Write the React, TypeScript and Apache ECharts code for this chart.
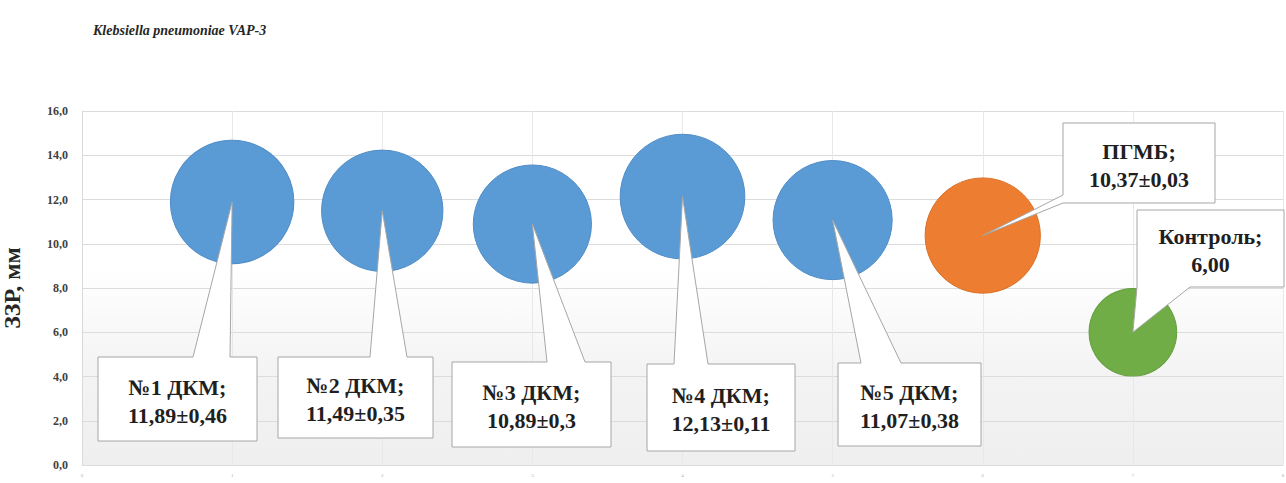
import React, { useEffect, useRef } from "react";
import * as echarts from "echarts";

// Samples plotted along the x axis, one bubble each
const categories = ["№1 ДКМ", "№2 ДКМ", "№3 ДКМ", "№4 ДКМ", "№5 ДКМ", "ПГМБ", "Контроль"];
const xPositions = [1, 2, 3, 4, 5, 6, 7];
// Mean growth-inhibition zone, mm (also used as bubble size)
const means = [11.89, 11.49, 10.89, 12.13, 11.07, 10.37, 6.0];
// Standard deviations (control has none)
const deviations: (number | null)[] = [0.46, 0.35, 0.3, 0.11, 0.38, 0.03, null];
const yTickMin = 0;
const yTickMax = 16;
const yTickStep = 2;

const bubbleColors = ["#5b9bd5", "#5b9bd5", "#5b9bd5", "#5b9bd5", "#5b9bd5", "#ed7d31", "#70ad47"];
const bubbleEdges = ["#4f8cc6", "#4f8cc6", "#4f8cc6", "#4f8cc6", "#4f8cc6", "#d96f27", "#64a03e"];

// Callout boxes in pixels: [left, top, right, bottom], the edge the pointer leaves from, and pointer base
type Callout = { box: [number, number, number, number]; side: "top" | "left" | "bottom"; base: [number, number] };
const callouts: Callout[] = [
  { box: [98, 357, 257, 441], side: "top", base: [193, 230] },
  { box: [278, 357, 433, 438], side: "top", base: [370, 407] },
  { box: [452, 362, 611, 447], side: "top", base: [547, 585] },
  { box: [647, 364, 795, 451], side: "top", base: [674, 708] },
  { box: [838, 363, 981, 446], side: "top", base: [861, 901] },
  { box: [1063, 123, 1215, 203], side: "left", base: [195, 203] },
  { box: [1137, 210, 1284, 287], side: "bottom", base: [1137, 1190] },
];

const fmt = (v: number) => String(v).replace(".", ",");
const labelText = (i: number) =>
  `${categories[i]};\n${means[i].toFixed(2).replace(".", ",")}` +
  (deviations[i] != null ? `±${fmt(deviations[i] as number)}` : "");

export default function App() {
  const ref = useRef<HTMLDivElement>(null);

  useEffect(() => {
    if (!ref.current) return;
    const chart = echarts.init(ref.current, null, { renderer: "svg" });
    const serif = "Liberation Serif";

    chart.setOption({
      animation: false,
      backgroundColor: "#ffffff",
      textStyle: { fontFamily: serif },
      title: {
        text: "Klebsiella pneumoniae VAP-3",
        left: 88,
        top: 18,
        textStyle: { fontFamily: serif, fontSize: 14, fontStyle: "italic", fontWeight: "bold", color: "#262626" },
      },
      grid: {
        left: 82,
        right: 3,
        top: 111,
        bottom: 18,
        containLabel: false,
        outerBoundsMode: "none",
        show: true,
        borderWidth: 0,
        backgroundColor: {
          type: "linear",
          x: 0,
          y: 0,
          x2: 0,
          y2: 1,
          colorStops: [
            { offset: 0, color: "#ffffff" },
            { offset: 0.45, color: "#ffffff" },
            { offset: 0.75, color: "#f3f3f3" },
            { offset: 1, color: "#efefef" },
          ],
        },
      },
      xAxis: {
        type: "value",
        min: 0,
        max: 8,
        interval: 1,
        axisLine: { show: false },
        axisTick: { show: false },
        axisLabel: { fontSize: 5, color: "#b0b0b0", margin: 8 },
        splitLine: { show: true, lineStyle: { color: "#e8e8e8", width: 1 } },
      },
      yAxis: {
        type: "value",
        min: yTickMin,
        max: yTickMax,
        interval: yTickStep,
        name: "ЗЗР, мм",
        nameLocation: "middle",
        nameGap: 58,
        nameTextStyle: { fontFamily: serif, fontSize: 24, fontWeight: "bold", color: "#262626" },
        axisLine: { show: true, lineStyle: { color: "#d9d9d9" } },
        axisTick: { show: false },
        axisLabel: {
          fontFamily: serif,
          fontSize: 12,
          fontWeight: "bold",
          color: "#404040",
          margin: 14,
          formatter: (v: number) => v.toFixed(1).replace(".", ","),
        },
        splitLine: { show: true, lineStyle: { color: "#dcdcdc", width: 1 } },
      },
      series: [
        {
          type: "scatter",
          symbolSize: (val: number[]) => 35.8 * Math.sqrt(val[2]),
          data: means.map((m, i) => ({
            name: categories[i],
            value: [xPositions[i], m, m],
            itemStyle: { color: bubbleColors[i], borderColor: bubbleEdges[i], borderWidth: 1, opacity: 1 },
          })),
          z: 2,
        },
      ],
    });

    // Callouts: white boxes with a pointer wedge ending at each bubble's centre
    const graphics: any[] = [];
    callouts.forEach((c, i) => {
      const apex = chart.convertToPixel({ xAxisIndex: 0, yAxisIndex: 0 }, [xPositions[i], means[i]]) as number[];
      const [L, T, R, B] = c.box;
      const [a, b] = c.base;
      let points: number[][];
      if (c.side === "top") {
        points = [[L, T], [a, T], apex, [b, T], [R, T], [R, B], [L, B]];
      } else if (c.side === "left") {
        points = [[L, T], [R, T], [R, B], [L, B], [L, b], apex, [L, a]];
      } else {
        points = [[L, T], [R, T], [R, B], [b, B], apex, [a, B], [L, B]];
      }
      graphics.push({
        type: "polygon",
        z: 100,
        shape: { points },
        style: { fill: "#ffffff", stroke: "#a6a6a6", lineWidth: 1 },
      });
      graphics.push({
        type: "text",
        z: 101,
        x: (L + R) / 2,
        y: (T + B) / 2 + 2,
        style: {
          text: labelText(i),
          fontFamily: serif,
          fontSize: 22,
          fontWeight: "bold",
          fill: "#1f1f1f",
          align: "center",
          verticalAlign: "middle",
          lineHeight: 28,
        },
      });
    });
    chart.setOption({ graphic: graphics });

    return () => chart.dispose();
  }, []);

  return (
    <div
      ref={ref}
      style={{ position: "fixed", left: 0, top: 0, width: 1286, height: 483 }}
    />
  );
}
